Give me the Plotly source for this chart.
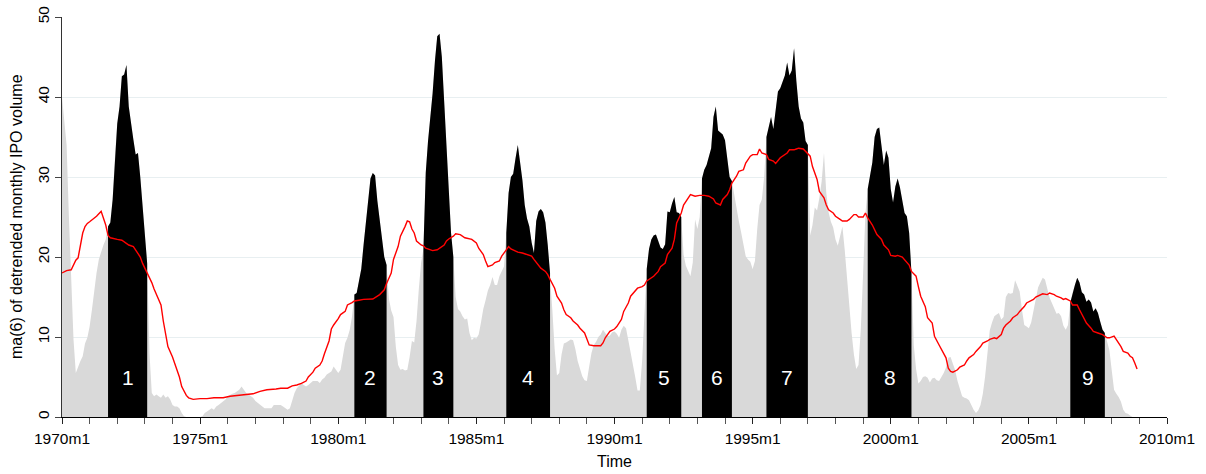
import plotly.graph_objects as go

# ---------------- data ----------------
# months counted from 1970m1 (0 = 1970m1)
start_year = 1970

# ma(6) of detrended monthly IPO volume, 1970m1 .. 2008m12
ipo_ma6 = [
    40, 37, 34, 25, 17.6, 9.7, 5.5, 6.3, 7.0, 7.6, 9.2, 9.9,
    11.3, 13.4, 15.9, 18.0, 19.7, 20.7, 21.5, 22.2, 23.8, 24.3, 27.2, 32.6,
    36.7, 38.8, 42.6, 42.8, 44.0, 38.8, 36.5, 34.7, 32.8, 33.0, 30.0, 26.7,
    23.4, 19.2, 8.0, 3.0, 2.6, 2.8, 2.6, 2.4, 2.8, 2.4, 2.6, 2.2,
    1.5, 1.3, 1.3, 1.1, 0.5, 0.1, 0, 0, 0, 0, 0, 0,
    0, 0.1, 0.5, 0.7, 0.9, 1.1, 0.9, 1.3, 1.5, 1.75, 2.0, 2.2,
    2.6, 2.8, 2.9, 3.0, 3.2, 3.4, 3.8, 3.4, 3.0, 2.8, 2.6, 2.4,
    2.0, 1.75, 1.5, 1.3, 1.1, 1.1, 1.1, 1.1, 1.5, 1.5, 1.5, 1.5,
    1.3, 1.1, 0.9, 1.1, 2.2, 3.0, 3.6, 4.0, 4.25, 4.0, 3.8, 4.0,
    4.25, 4.5, 4.5, 4.5, 4.25, 4.7, 4.9, 5.3, 5.5, 5.7, 6.3, 5.9,
    5.5, 5.9, 7.4, 9.25, 9.9, 10.9, 12.6, 15.3, 15.5, 17, 18.5, 21.5,
    24.25, 27.5, 29.8, 30.5, 30.2, 27, 24.5, 22.3, 20, 19, 14.8, 13.3,
    12.5, 8.8, 6.5, 5.9, 6.0, 5.8, 5.9, 7.5, 9.5, 9.3, 12, 16,
    19.3, 21, 30.5, 34.5, 37.4, 40.5, 44.5, 47.6, 47.9, 45, 39.5, 33.5,
    28, 23, 20, 15, 13.5, 13.2, 12.6, 12.2, 12.3, 10.5, 9.6, 9.9,
    9.8, 10.3, 11.8, 13.5, 14.6, 15.8, 16.5, 17.5, 16.5, 16.5, 17.6, 18.3,
    18.8, 23, 28, 30, 30.4, 32.3, 34, 31.8, 29.6, 26.5, 24.8, 23.8,
    21.8, 20.5, 24.5, 25.7, 26, 25.6, 24.3, 21.5, 18, 13.4, 8.5, 5.2,
    5.5, 7.8, 9.2, 9.3, 9.5, 9.7, 9.6, 8.5, 7.0, 6.0, 5.1, 4.6,
    4.5, 6.3, 8.0, 9.0, 9.4, 10.0, 10.3, 10.9, 10.5, 10.1, 10.2, 10.6,
    10.7, 10.4, 9.9, 10.9, 11.4, 11.1, 9.6, 8.2, 6.7, 5.0, 3.3, 3.3,
    7, 13, 18.5, 21, 22.2, 22.7, 22.8, 22.1, 21.2, 21, 21.6, 25.7,
    25.6, 26.7, 27.5, 25.6, 25.5, 25, 20.3, 18.9, 18.3, 17.6, 19.3, 24.7,
    23.5, 25, 29.8, 30.9, 31.5, 32.6, 33.6, 37.5, 38.8, 35.8, 35.6, 35.3,
    34.6, 32.5, 30, 29.5, 27.8, 25.8, 24.5, 23.1, 21.5, 20.1, 19.7, 19.4,
    18.5, 19.5, 23.5, 26.5, 27.2, 30, 35, 36.3, 37.5, 36, 38.4, 40.7,
    41.1, 42, 42.7, 44.3, 42.7, 43.3, 46.1, 42, 38.8, 37.3, 36.8, 34.5,
    34, 22.7, 24, 26.2, 25.8, 27.4, 29.5, 33, 28, 25.6, 24.4, 23.7,
    22.2, 21.4, 22.8, 23.8, 20.9, 17.3, 14, 10.5, 7.8, 6, 6.5, 11,
    18, 25.5, 28.5, 30.3, 31.8, 35, 36, 36.2, 33.4, 31.5, 33.3, 32.4,
    28.5, 26.8, 28.8, 29.8, 28.7, 26.8, 25.5, 25.1, 23, 18, 9, 6,
    4.2, 4.5, 5.0, 5.1, 4.9, 4.3, 4.8, 4.9, 4.6, 4.5, 5.0, 5.5,
    6.2, 7.4, 7.5, 6.6, 5.8, 4.5, 3.4, 2.6, 2.4, 2.3, 2.1, 1.4,
    0.9, 0.5, 0.8, 1.5, 2.9, 5.1, 8.5, 10.8, 11.8, 12.6, 12.8, 13,
    12.2, 12.5, 15, 15.5, 15.4, 15.5, 17.1, 16.5, 15.7, 13.4, 11.5, 11.3,
    11.1, 11.8, 13.4, 14.9, 16.2, 16.8, 17.4, 17.2, 16.1, 14.9, 14.25, 13.5,
    12.9, 13.0, 12.6, 11.4, 10.9, 11.5, 14.3, 15.6, 16.5, 17.4, 16.8, 15.6,
    15.3, 14.4, 14.7, 14.3, 13.2, 13.6, 13.0, 11.9, 10.9, 10.5, 9.2, 8.3,
    5.8, 3.4, 2.9, 2.5, 1.9, 0.9, 0.5, 0.4, 0.2, 0, 0, 0,
]

# longer moving average (red line): month index and value
red_month = [
    0, 2, 4, 5, 6, 7, 8, 9, 10, 11, 12, 13, 14, 15, 16, 17, 19, 20, 21, 22, 24, 26, 27, 29,
    31, 32, 34, 35, 36, 37, 38, 39, 40, 43, 44, 46, 48, 50, 51, 52, 54, 55, 57, 60, 63, 66,
    70, 73, 76, 79, 83, 86, 89, 93, 95, 98, 100, 102, 104, 106, 107, 109, 110, 112, 113, 114,
    116, 117, 118, 120, 121, 123, 124, 126, 127, 129, 131, 135, 137, 138, 140, 141, 143, 144,
    146, 147, 149, 150, 151, 152, 153, 154, 156, 157, 158, 160, 161, 163, 164, 166, 167, 168,
    170, 171, 173, 174, 175, 178, 180, 181, 183, 184, 185, 187, 188, 190, 191, 193, 194, 195,
    197, 198, 200, 201, 202, 204, 205, 207, 208, 210, 211, 212, 214, 215, 217, 218, 219, 221,
    222, 224, 225, 227, 228, 229, 231, 234, 235, 236, 238, 240, 241, 243, 244, 246, 247, 249,
    250, 252, 253, 254, 256, 257, 259, 260, 262, 263, 265, 266, 267, 269, 270, 272, 273, 275,
    277, 279, 281, 283, 284, 286, 287, 289, 290, 291, 293, 294, 296, 297, 299, 300, 302, 303,
    304, 306, 307, 309, 310, 312, 313, 315, 316, 318, 319, 320, 322, 323, 325, 326, 328, 329,
    331, 332, 333, 335, 336, 338, 339, 341, 342, 344, 345, 346, 348, 349, 350, 352, 353, 354,
    356, 357, 359, 360, 362, 363, 365, 366, 368, 369, 371, 372, 373, 375, 376, 378, 379, 381,
    382, 384, 385, 386, 387, 389, 390, 392, 393, 394, 396, 397, 399, 400, 402, 403, 405, 406,
    408, 409, 410, 412, 413, 415, 416, 418, 419, 421, 422, 423, 425, 426, 428, 429, 431, 432,
    434, 435, 436, 438, 439, 441, 442, 444, 445, 447, 448, 450, 451, 452, 454, 455, 457, 458,
    460, 461, 463, 464, 465, 466, 467,
]
red_value = [
    18.0, 18.3, 18.4, 19.0, 19.6, 19.9, 21.5, 23.0, 23.8, 24.2, 24.4, 24.6, 24.8, 25.1, 25.4, 25.7, 24.0, 22.7, 22.4, 22.3, 22.2, 22.1, 21.9, 21.5,
    21.3, 20.9, 20.0, 19.2, 18.6, 18.0, 17.5, 16.8, 16.0, 14.0, 12.0, 8.8, 7.5, 6.0, 5.0, 3.8, 2.7, 2.4, 2.2, 2.3, 2.3, 2.4,
    2.4, 2.6, 2.7, 2.8, 2.9, 3.2, 3.4, 3.5, 3.6, 3.6, 3.9, 4.0, 4.2, 4.5, 5.0, 5.6, 6.1, 6.5, 7.0, 7.9,
    9.5, 11.0, 11.5, 12.3, 12.8, 13.2, 14.0, 14.3, 14.5, 14.6, 14.7, 14.75, 15.1, 15.3, 15.9, 16.7, 18.0, 19.7,
    21.3, 22.6, 23.8, 24.5, 24.4, 23.5, 23.0, 22.0, 21.5, 21.4, 21.1, 20.9, 20.8, 20.9, 21.1, 21.5, 22.0, 22.25,
    22.6, 22.9, 22.8, 22.6, 22.4, 22.2, 21.75, 21.1, 20.3, 19.5, 18.8, 19.0, 19.3, 19.5, 20.1, 20.9, 21.3, 21.0,
    20.7, 20.6, 20.5, 20.4, 20.3, 20.1, 19.7, 19.0, 18.6, 18.2, 17.8, 17.2, 16.1, 15.1, 14.25, 13.4, 12.8, 12.4,
    12.0, 11.5, 11.1, 10.5, 9.7, 9.0, 8.9, 8.9, 9.25, 9.9, 10.7, 11.0, 11.3, 12.2, 13.2, 14.25, 15.1, 15.7,
    16.1, 16.3, 16.5, 17.0, 17.4, 17.6, 18.2, 18.8, 19.25, 20.3, 21.1, 22.2, 24.25, 25.5, 26.5, 27.4, 27.8, 27.6,
    27.7, 27.7, 27.6, 27.25, 26.75, 26.5, 27.2, 27.8, 28.4, 29.25, 30.1, 30.7, 30.9, 31.75, 32.6, 32.8, 32.8, 33.5,
    33.0, 32.8, 32.2, 32.0, 31.7, 32.4, 32.6, 33.0, 33.4, 33.4, 33.5, 33.6, 33.5, 33.2, 32.6, 31.3, 29.7, 28.2,
    27.4, 26.5, 25.9, 25.5, 25.1, 24.7, 24.5, 24.5, 24.7, 25.3, 25.3, 25.0, 25.0, 25.5, 24.9, 24.0, 23.4, 22.8,
    22.2, 21.5, 20.9, 20.2, 20.1, 20.2, 20.0, 19.7, 19.0, 18.2, 17.6, 16.3, 15.1, 13.8, 12.4, 11.75, 10.1, 9.0,
    8.4, 7.4, 6.1, 5.7, 5.6, 5.9, 6.25, 6.5, 7.0, 7.4, 7.8, 8.2, 8.8, 9.25, 9.5, 9.7, 9.9, 9.8,
    10.3, 11.1, 11.5, 12.0, 12.4, 12.8, 13.2, 13.8, 14.25, 14.5, 14.7, 15.0, 15.3, 15.4, 15.3, 15.5, 15.3, 15.1,
    14.9, 14.7, 14.8, 14.5, 14.0, 14.0, 13.4, 12.4, 11.75, 11.1, 10.7, 10.5, 10.4, 10.3, 9.9, 9.9, 10.1, 9.7,
    8.8, 8.2, 8.0, 7.6, 7.4, 6.75, 6.0,
]

# hot-market periods (first and last month index) and their labels
hot_start = [20, 127, 157, 193, 254, 278, 306, 350, 438]
hot_end = [37, 141, 170, 212, 269, 291, 324, 369, 453]
hot_labels = ["1", "2", "3", "4", "5", "6", "7", "8", "9"]

# axis ticks and titles
x_tick_years = [1970, 1975, 1980, 1985, 1990, 1995, 2000, 2005, 2010]
x_tick_labels = ["1970m1", "1975m1", "1980m1", "1985m1", "1990m1",
                 "1995m1", "2000m1", "2005m1", "2010m1"]
x_minor_years = list(range(1970, 2011))
y_ticks = [0, 10, 20, 30, 40, 50]
x_title = "Time"
y_title = "ma(6) of detrended monthly IPO volume"

# ---------------- figure ----------------
def to_year(m):
    return start_year + m / 12.0

months = list(range(len(ipo_ma6)))
x_all = [to_year(m) for m in months]

FONT = "Liberation Sans, Arial, Helvetica, sans-serif"
W, H = 1206, 474
ML, MR, MT, MB = 62, 39, 17, 57
PW, PH = W - ML - MR, H - MT - MB

fig = go.Figure()

fig.add_trace(go.Scatter(
    x=x_all, y=ipo_ma6, mode="lines",
    line=dict(width=0, color="#d9d9d9"),
    fill="tozeroy", fillcolor="#d9d9d9", hoverinfo="skip",
))

for s, e in zip(hot_start, hot_end):
    fig.add_trace(go.Scatter(
        x=[to_year(m) for m in range(s, e + 1)],
        y=ipo_ma6[s:e + 1], mode="lines",
        line=dict(width=0, color="black"),
        fill="tozeroy", fillcolor="black", hoverinfo="skip",
    ))

fig.add_trace(go.Scatter(
    x=[to_year(m) for m in red_month], y=red_value, mode="lines",
    line=dict(width=1.4, color="#ff0000"), hoverinfo="skip",
))

for s, e, lab in zip(hot_start, hot_end, hot_labels):
    fig.add_annotation(
        x=to_year((s + e) / 2.0), y=5, text=lab, showarrow=False,
        font=dict(family=FONT, size=21, color="white"),
        xanchor="center", yanchor="middle",
    )

# axis titles placed as paper-anchored annotations
fig.add_annotation(
    x=0.5, y=-44.5 / PH, xref="paper", yref="paper", text=x_title,
    showarrow=False, xanchor="center", yanchor="middle",
    font=dict(family=FONT, size=16, color="black"),
)
fig.add_annotation(
    x=-46.0 / PW, y=0.5, xref="paper", yref="paper", text=y_title,
    showarrow=False, xanchor="center", yanchor="middle", textangle=-90,
    font=dict(family=FONT, size=16, color="black"),
)

fig.update_layout(
    width=W, height=H,
    margin=dict(l=ML, r=MR, t=MT, b=MB, autoexpand=False),
    plot_bgcolor="white", paper_bgcolor="white",
    showlegend=False,
    font=dict(family=FONT, size=15.5, color="black"),
)

fig.update_xaxes(
    range=[1970, 2010], automargin=False,
    tickmode="array", tickvals=x_tick_years, ticktext=x_tick_labels,
    ticks="outside", ticklen=6, tickwidth=1, tickcolor="#222",
    ticklabelstandoff=1,
    minor=dict(tickmode="array", tickvals=x_minor_years, ticks="outside",
               ticklen=6, tickwidth=1, tickcolor="#555", showgrid=False),
    showline=True, linecolor="black", linewidth=1,
    showgrid=False, zeroline=False,
)

fig.update_yaxes(
    range=[0, 50], automargin=False,
    tickmode="array", tickvals=y_ticks, tickangle=-90,
    ticks="outside", ticklen=6, tickwidth=1, tickcolor="#444",
    showline=True, linecolor="#333", linewidth=1,
    showgrid=True, gridcolor="#e8eff1", gridwidth=1,
    zeroline=False,
)

fig.write_html(
    "out.html",
    config={"displayModeBar": False},
    post_script="document.body.style.margin='0';document.body.style.overflow='hidden';",
)
